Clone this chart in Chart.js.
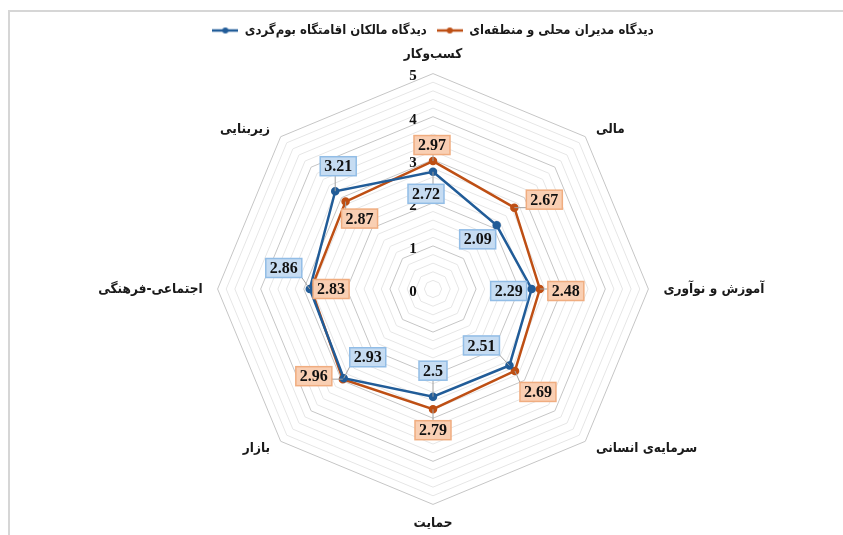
<!DOCTYPE html>
<html>
<head>
<meta charset="utf-8">
<script src="https://cdn.jsdelivr.net/npm/chart.js@4.4.1/dist/chart.umd.min.js"></script>
<style>
  body { margin: 0; background: #fff; }
  #wrap { position: relative; width: 843px; height: 535px; overflow: hidden; }
  #frame { position: absolute; left: 8px; top: 10px; width: 900px; height: 600px; border-left: 2px solid #d6d6d6; border-top: 2px solid #d6d6d6; }
  canvas { position: absolute; left: 0; top: 0; }
</style>
</head>
<body>
<div id="wrap">
  <div id="frame"></div>
  <canvas id="radar" width="843" height="535"></canvas>
</div>
<script>
const categories = ['کسب‌وکار', 'مالی', 'آموزش و نوآوری', 'سرمایه‌ی انسانی', 'حمایت', 'بازار', 'اجتماعی-فرهنگی', 'زیربنایی'];
const ownersLabel = 'دیدگاه مالکان اقامتگاه بوم‌گردی';
const managersLabel = 'دیدگاه مدیران محلی و منطقه‌ای';
const ownersValues = [2.72, 2.09, 2.29, 2.51, 2.5, 2.93, 2.86, 3.21];
const managersValues = [2.97, 2.67, 2.48, 2.69, 2.79, 2.96, 2.83, 2.87];
const tickLabels = [0, 1, 2, 3, 4, 5];

// where each value box sits, relative to its point (px)
const ownersOffsets = [[-7, 22], [-19, 14], [-23, 2], [-28, -20], [0, -26], [24, -21], [-26, -21], [3, -25]];
const managersOffsets = [[-1, -16], [30, -8], [26, 2], [23, 21], [0, 21], [-29, -3], [20, 0], [14, 17]];

const blue = '#215C98';
const orange = '#BE4F14';
const labelFont = 'bold 13.5px "DejaVu Sans Condensed", "DejaVu Sans"';

function legendMarker(color) {
    const c = document.createElement('canvas');
    c.width = 26;
    c.height = 8;
    const g = c.getContext('2d');
    g.strokeStyle = color;
    g.lineWidth = 2.5;
    g.beginPath();
    g.moveTo(0, 4);
    g.lineTo(26, 4);
    g.stroke();
    g.fillStyle = color;
    g.beginPath();
    g.arc(13, 4, 3, 0, Math.PI * 2);
    g.fill();
    return c;
}
const markers = [legendMarker(blue), legendMarker(orange)];

function isMajor(v) {
    return Math.abs(v - Math.round(v)) < 1e-6;
}

function drawBox(ctx, pt, off, text, fill, stroke) {
    ctx.font = 'bold 16px "Liberation Serif"';
    const w = ctx.measureText(text).width + 8;
    const h = 19;
    const cx = pt.x + off[0];
    const cy = pt.y + off[1];
    const x0 = cx - w / 2;
    const y0 = cy - h / 2;
    const nx = Math.max(x0, Math.min(pt.x, x0 + w));
    const ny = Math.max(y0, Math.min(pt.y, y0 + h));
    if (Math.hypot(nx - pt.x, ny - pt.y) > 5) {
        ctx.strokeStyle = '#a0a0a0';
        ctx.lineWidth = 1;
        ctx.beginPath();
        ctx.moveTo(pt.x, pt.y);
        ctx.lineTo(nx, ny);
        ctx.stroke();
    }
    ctx.fillStyle = fill;
    ctx.fillRect(x0, y0, w, h);
    ctx.strokeStyle = stroke;
    ctx.lineWidth = 1.5;
    ctx.strokeRect(x0, y0, w, h);
    ctx.fillStyle = '#111';
    ctx.textAlign = 'center';
    ctx.textBaseline = 'middle';
    ctx.fillText(text, cx, cy + 1);
}

const overlay = {
    id: 'overlay',
    beforeDatasetsDraw(chart) {
        const ctx = chart.ctx;
        const r = chart.scales.r;
        ctx.save();
        ctx.font = 'bold 15px "Liberation Serif"';
        ctx.fillStyle = '#111';
        ctx.textAlign = 'center';
        ctx.textBaseline = 'middle';
        tickLabels.forEach(v => {
            const p = r.getPointPositionForValue(0, v);
            ctx.fillText(String(v), p.x - 20, p.y + 3);
        });

        // category names around the web
        ctx.font = labelFont;
        ctx.fillStyle = '#1a1a1a';
        categories.forEach((name, i) => {
            const ang = i * 45;
            const vertical = ang === 0 || ang === 180;
            const p = r.getPointPosition(i, r.drawingArea + (vertical ? 19 : 15));
            let y = p.y;
            if (ang === 45 || ang === 315) y += 3;
            if (ang === 135 || ang === 225) y -= 3;
            ctx.textAlign = vertical ? 'center' : (ang < 180 ? 'left' : 'right');
            ctx.fillText(name, p.x, y);
        });
        ctx.restore();
    },
    afterDatasetsDraw(chart) {
        const ctx = chart.ctx;
        ctx.save();
        const m0 = chart.getDatasetMeta(0).data;
        const m1 = chart.getDatasetMeta(1).data;
        ownersValues.forEach((v, i) => drawBox(ctx, m0[i], ownersOffsets[i], String(v), '#c6dcf2', '#92bde6'));
        managersValues.forEach((v, i) => drawBox(ctx, m1[i], managersOffsets[i], String(v), '#f9cfb3', '#f0ad80'));
        ctx.restore();
    }
};

new Chart(document.getElementById('radar').getContext('2d'), {
    type: 'radar',
    data: {
        labels: categories,
        datasets: [{
            label: ownersLabel,
            data: ownersValues,
            borderColor: blue,
            backgroundColor: 'transparent',
            pointBackgroundColor: blue,
            pointBorderColor: blue,
            borderWidth: 2.5,
            pointRadius: 3,
            fill: false
        }, {
            label: managersLabel,
            data: managersValues,
            borderColor: orange,
            backgroundColor: 'transparent',
            pointBackgroundColor: orange,
            pointBorderColor: orange,
            borderWidth: 2.5,
            pointRadius: 3,
            fill: false
        }]
    },
    options: {
        responsive: false,
        animation: false,
        layout: { padding: { top: 14, left: 23, right: 0, bottom: 3 } },
        plugins: {
            tooltip: { enabled: false },
            legend: {
                position: 'top',
                labels: {
                    usePointStyle: true,
                    pointStyleWidth: 26,
                    padding: 10,
                    color: '#1a1a1a',
                    font: { family: '"DejaVu Sans Condensed", "DejaVu Sans"', size: 13, weight: 'bold', lineHeight: 1.45 },
                    generateLabels(chart) {
                        const items = Chart.defaults.plugins.legend.labels.generateLabels(chart);
                        items.forEach(it => { it.pointStyle = markers[it.datasetIndex]; });
                        return items;
                    }
                }
            }
        },
        scales: {
            r: {
                min: 0,
                max: 5,
                ticks: { display: false, stepSize: 0.2 },
                grid: {
                    color: c => isMajor(c.tick.value) ? '#c6c6c6' : '#e6e6e6',
                    lineWidth: 1
                },
                angleLines: { display: false },
                // kept for the layout fit only; the names are drawn by the overlay plugin
                pointLabels: {
                    color: 'transparent',
                    padding: 11,
                    font: { family: 'DejaVu Sans', size: 13, weight: 'bold' }
                }
            }
        }
    },
    plugins: [overlay]
});
</script>
</body>
</html>
